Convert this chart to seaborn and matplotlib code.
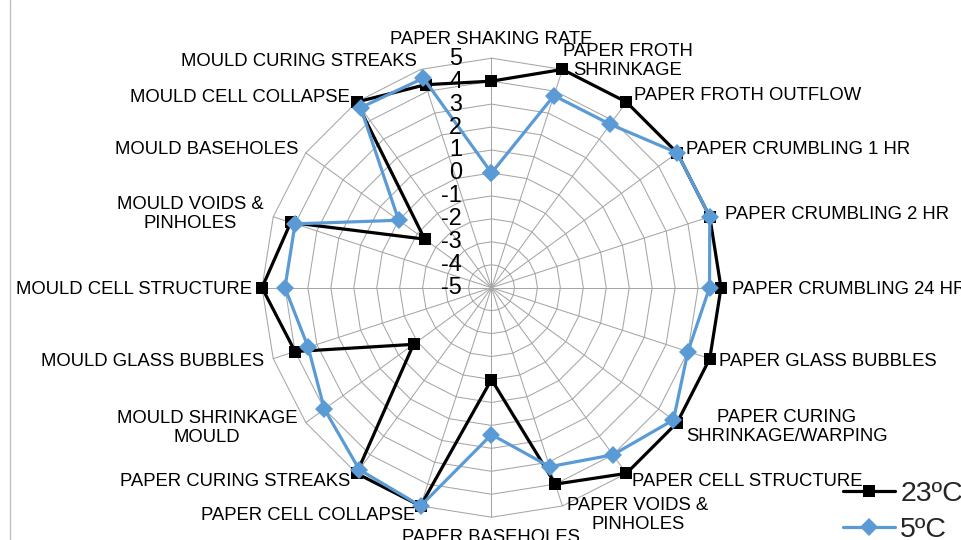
import numpy as np
import pandas as pd
import matplotlib
matplotlib.use("Agg")
import matplotlib.pyplot as plt
import matplotlib.transforms as mtransforms
import seaborn as sns

# ---- data -------------------------------------------------------------
categories = [
    "PAPER SHAKING RATE", "PAPER FROTH\nSHRINKAGE", "PAPER FROTH OUTFLOW",
    "PAPER CRUMBLING 1 HR", "PAPER CRUMBLING 2 HR", "PAPER CRUMBLING 24 HR",
    "PAPER GLASS BUBBLES", "PAPER CURING\nSHRINKAGE/WARPING",
    "PAPER CELL STRUCTURE", "PAPER VOIDS &\nPINHOLES", "PAPER BASEHOLES",
    "PAPER CELL COLLAPSE", "PAPER CURING STREAKS", "MOULD SHRINKAGE\nMOULD",
    "MOULD GLASS BUBBLES", "MOULD CELL STRUCTURE", "MOULD VOIDS &\nPINHOLES",
    "MOULD BASEHOLES", "MOULD CELL COLLAPSE", "MOULD CURING STREAKS",
]
temp_23 = [4, 5, 5, 5, 5, 5, 5, 5, 5, 4, -1, 5, 5, -0.8, 4, 5, 4.2, -1.4, 5, 4.3]
temp_5 = [0, 3.8, 3.8, 5, 5, 4.5, 4, 4.8, 4, 3.2, 1.4, 5, 4.8, 4, 3.4, 4, 4, 0, 4.7, 4.6]
series_names = ["23ºC", "5ºC"]
tick_values = [5, 4, 3, 2, 1, 0, -1, -2, -3, -4, -5]

# ---- layout -----------------------------------------------------------
W, H = 962, 540
DPI = 100
CX, CY, R = 491.5, 287.7, 229.5  # centre and outer radius in pixels

sns.set_style("white")
plt.rcParams["font.family"] = ["Liberation Sans", "DejaVu Sans"]

fig = plt.figure(figsize=(W / DPI, H / DPI), dpi=DPI)
fig.patch.set_facecolor("white")

def fx(px):
    return px / W

def fy(py):
    return 1 - py / H

ax = fig.add_axes([fx(CX - R), fy(CY + R), 2 * R / W, 2 * R / H], projection="polar")
ax.set_theta_offset(np.pi / 2)
ax.set_theta_direction(-1)
ax.set_ylim(-5, 5)
ax.grid(False)
ax.set_xticks([])
ax.set_yticks([])
ax.spines["polar"].set_visible(False)
ax.patch.set_alpha(0)

n = len(categories)
theta = np.linspace(0, 2 * np.pi, n, endpoint=False)
theta_closed = np.append(theta, 2 * np.pi)

# spider-web grid: straight-edged rings plus spokes
grid_kw = dict(color="#a6a6a6", lw=0.75, zorder=1, clip_on=False)
for v in tick_values[:-1]:
    ax.plot(theta_closed, np.full(n + 1, v), **grid_kw)
for t in theta:
    ax.plot([t, t], [-5, 5], **grid_kw)

# value axis labels along the top spoke
tick_tr = mtransforms.offset_copy(ax.transData, fig=fig, x=-29.5 / DPI * 72, y=0, units="points")
for v in tick_values:
    ax.text(0, v, f"{v}", transform=tick_tr, ha="right", va="center",
            fontsize=16.8, color="black", zorder=5)

# series
rows = []
for name, vals in zip(series_names, [temp_23, temp_5]):
    closed = list(vals) + [vals[0]]
    for t, v in zip(theta_closed, closed):
        rows.append({"theta": t, "score": v, "series": name})
df = pd.DataFrame(rows)

sns.lineplot(
    data=df, x="theta", y="score", hue="series", style="series",
    hue_order=series_names, style_order=series_names,
    palette={"23ºC": "black", "5ºC": "#5b9bd5"},
    markers={"23ºC": "s", "5ºC": "D"}, dashes=False, sort=False,
    lw=2.3, markersize=9, markeredgewidth=0, ax=ax, clip_on=False,
    zorder=3, legend=True,
)
ax.set_xlabel("")
ax.set_ylabel("")
ax.set_ylim(-5, 5)

handles, labels = ax.get_legend_handles_labels()
ax.get_legend().remove()
fig.legend(handles, labels, loc="center left",
           bbox_to_anchor=(fx(843), fy(512)), frameon=False,
           fontsize=20.5, handlelength=1.83, handletextpad=0.18,
           labelspacing=0.38, borderaxespad=0, borderpad=0)

# category labels around the web
label_pos = [
    (491, 40, "center"), (628, 61, "center"), (634, 96, "left"),
    (686, 149, "left"), (725, 214, "left"), (732, 289, "left"),
    (719, 362, "left"), (787, 427, "center"), (632, 481, "left"),
    (638, 515, "center"), (491, 537, "center"), (415, 516, "right"),
    (350, 481, "right"), (207, 428, "center"), (264, 362, "right"),
    (252, 289, "right"), (190, 214, "center"), (298, 149, "right"),
    (350, 97, "right"), (417, 61, "right"),
]
for text, (px, py, ha) in zip(categories, label_pos):
    fig.text(fx(px), fy(py), text, ha=ha, va="center", multialignment="center",
             fontsize=13.3, color="black", linespacing=1.2)

# chart area border on the left
fig.add_artist(plt.Line2D([fx(10), fx(10)], [0, 1], color="#bfbfbf", lw=1))

fig.savefig("out.png", dpi=DPI)
